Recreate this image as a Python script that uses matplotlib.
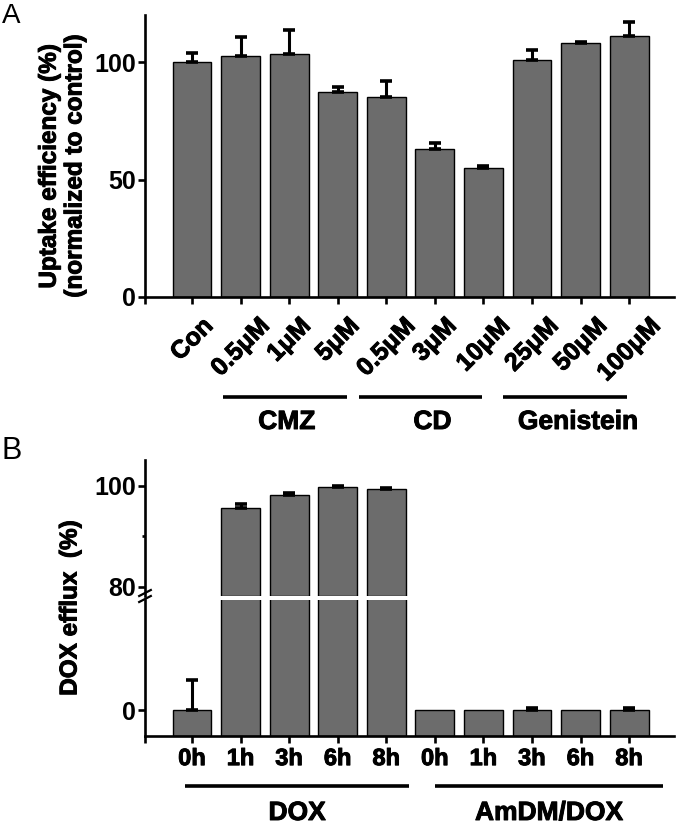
import matplotlib
matplotlib.use('Agg')
import matplotlib.pyplot as plt
import matplotlib.patheffects as pe
from matplotlib import transforms
import numpy as np

plt.rcParams['font.family'] = ['Liberation Sans', 'DejaVu Sans']
plt.rcParams['font.weight'] = 'bold'

# ---- panel A data ----
a_labels = ['Con', '0.5\u03bcM', '1\u03bcM', '5\u03bcM', '0.5\u03bcM', '3\u03bcM', '10\u03bcM',
            '25\u03bcM', '50\u03bcM', '100\u03bcM']
a_values = [100.0, 102.5, 103.5, 87.3, 85.1, 62.8, 55.0, 100.9, 108.2, 110.9]
a_errors = [4.0, 8.0, 10.0, 2.0, 7.0, 2.6, 0.7, 4.2, 0.4, 6.0]
a_groups = ['CMZ', 'CD', 'Genistein']
a_members = [[1, 2, 3], [4, 5, 6], [7, 8, 9]]

# ---- panel B data ----
b_labels = ['0h', '1h', '3h', '6h', '8h', '0h', '1h', '3h', '6h', '8h']
b_values = [0.0, 95.6, 98.1, 99.7, 99.3, 0.0, 0.0, 0.0, 0.0, 0.0]
b_errors = [6.0, 0.7, 0.4, 0.2, 0.2, 0.0, 0.0, 0.3, 0.0, 0.3]
b_groups = ['DOX', 'AmDM/DOX']
b_members = [[0, 1, 2, 3, 4], [5, 6, 7, 8, 9]]

W, H = 677, 826
BAR = '#6c6c6c'
LW = 1.9

fig = plt.figure(figsize=(W / 100, H / 100), dpi=100)

def fig_rect(left, top, right, bottom):
    return [left / W, 1 - bottom / H, (right - left) / W, (bottom - top) / H]

def style_axis(ax):
    for s in ['top', 'right']:
        ax.spines[s].set_visible(False)
    for s in ['left', 'bottom']:
        ax.spines[s].set_linewidth(LW)
    ax.tick_params(axis='both', width=LW, length=5, labelsize=18)
    ax.tick_params(axis='y', pad=1.5)

def draw_bars(ax, vals, errs, base):
    x = np.arange(len(vals))
    v = np.array(vals)
    e = np.array(errs)
    show = v > base
    ax.bar(x[show], v[show] - base, bottom=base, width=0.8, color=BAR, edgecolor='black',
           linewidth=1.0, zorder=2)
    m = (e > 0) & show
    ax.errorbar(x[m], v[m], yerr=[np.zeros(m.sum()), e[m]], fmt='none', ecolor='black',
                elinewidth=2.2, capsize=4.5, capthick=2.6, zorder=3)

xlim = (-0.968, 9.925)

# ================= panel A =================
axA = fig.add_axes(fig_rect(145, 15, 674, 297))
draw_bars(axA, a_values, a_errors, 0)
axA.set_xlim(*xlim)
axA.set_ylim(0, 120)
axA.set_yticks([0, 50, 100])
style_axis(axA)
axA.set_xticks(np.arange(len(a_labels)))
axA.set_xticklabels(a_labels, rotation=45, ha='center', va='top', fontsize=18)
axA.tick_params(axis='x', pad=7)
axA.set_xticks([xlim[0]], minor=True)
axA.tick_params(axis='x', which='minor', width=LW, length=5)

tA = transforms.blended_transform_factory(axA.transData, fig.transFigure)
a_pads = [(-0.36, 0.19), (-0.56, -0.03), (-0.60, -0.05)]
for name, mem, (pl, pr) in zip(a_groups, a_members, a_pads):
    axA.plot([mem[0] + pl, mem[-1] + pr], [1 - 397 / H] * 2, color='black', lw=2.6,
             transform=tA, clip_on=False, solid_capstyle='butt')
    axA.text(np.mean(mem) - 0.05, 1 - 422 / H, name, transform=tA, ha='center', va='center',
             fontsize=19)

fig.text(62 / W, 1 - 166 / H, 'Uptake efficiency (%)\n(normalized to control)', rotation=90,
         ha='center', va='center', multialignment='center', fontsize=17.5, linespacing=1.15)
fig.text(2 / W, 1 - 16 / H, 'A', fontsize=20, fontweight='normal', ha='left', va='center')

# ================= panel B =================
axBt = fig.add_axes(fig_rect(145, 460, 674, 596))
axBb = fig.add_axes(fig_rect(145, 600, 674, 736))
draw_bars(axBt, b_values, b_errors, 78.16)
draw_bars(axBb, b_values, b_errors, -5.15)
for ax in (axBt, axBb):
    ax.set_xlim(*xlim)
    style_axis(ax)
axBt.set_ylim(78.16, 105.1)
axBb.set_ylim(-5.15, 21.8)
axBt.spines['bottom'].set_visible(False)
axBt.set_xticks([])
axBt.set_yticks([80, 100])
axBt.set_yticks([90], minor=True)
axBt.tick_params(axis='y', which='minor', width=LW, length=2.5)
axBb.set_yticks([0])
axBb.set_xticks(np.arange(len(b_labels)))
axBb.set_xticklabels(b_labels, fontsize=17)
axBb.tick_params(axis='x', pad=3)
axBb.set_xticks([xlim[0]], minor=True)
axBb.tick_params(axis='x', which='minor', width=LW, length=5)

# axis break marks
tb = transforms.blended_transform_factory(axBb.transAxes, fig.transFigure)
for dy in (-4, 2):
    axBb.plot([-0.011, 0.011], [1 - (597 + dy + 3) / H, 1 - (597 + dy - 3) / H], color='black',
              lw=1.6, transform=tb, clip_on=False)

tB = transforms.blended_transform_factory(axBb.transData, fig.transFigure)
b_pads = [(-0.14, 0.47), (0.0, 0.70)]
for name, mem, (pl, pr) in zip(b_groups, b_members, b_pads):
    x0, x1 = mem[0] + pl, mem[-1] + pr
    axBb.plot([x0, x1], [1 - 786 / H] * 2, color='black', lw=2.6, transform=tB, clip_on=False,
              solid_capstyle='butt')
    axBb.text((x0 + x1) / 2, 1 - 813 / H, name, transform=tB, ha='center', va='center',
              fontsize=19)

fig.text(70 / W, 1 - 608 / H, 'DOX efflux  (%)', rotation=90, ha='center', va='center',
         fontsize=17.5)
fig.text(2 / W, 1 - 451 / H, 'B', fontsize=22, fontweight='normal', ha='left', va='center')

# heavier strokes on the bold text, like the source figure
for t in fig.findobj(matplotlib.text.Text):
    if t.get_fontweight() == 'bold' and t.get_text():
        t.set_path_effects([pe.withStroke(linewidth=0.7, foreground='black')])

fig.savefig('out.png', dpi=100)
